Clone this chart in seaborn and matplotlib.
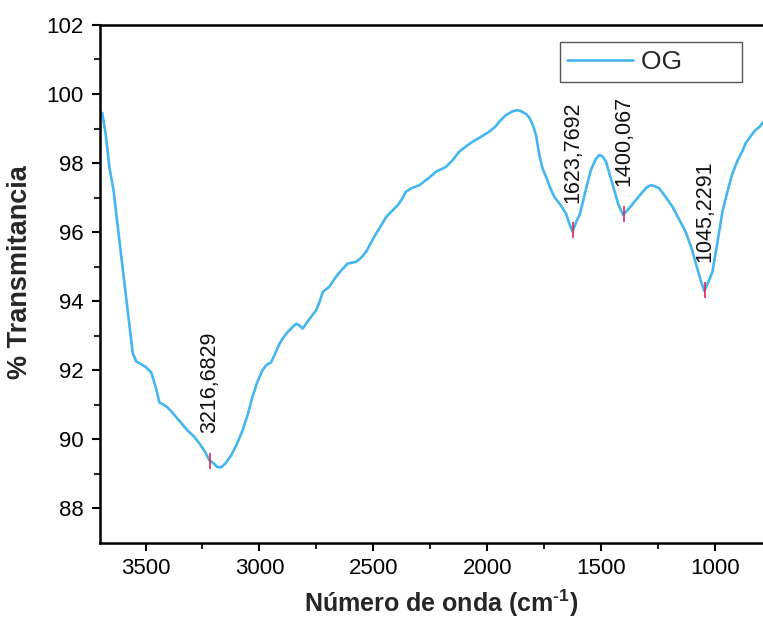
import numpy as np
import pandas as pd
import matplotlib
matplotlib.use("Agg")
import matplotlib.pyplot as plt
import seaborn as sns

wavenumber = [3700, 3690, 3675, 3658, 3640, 3628, 3610, 3592, 3570, 3556, 3540, 3526, 3500, 3475, 3455, 3439,
              3420, 3404, 3385, 3365, 3340, 3316, 3290, 3263, 3240, 3219, 3200, 3185, 3168, 3150,
              3124, 3100, 3074, 3050, 3031, 3010, 2987, 2970, 2949, 2930, 2912, 2895, 2876, 2855,
              2839, 2825, 2810, 2790, 2773, 2751, 2735, 2722, 2693, 2664, 2640, 2613, 2576, 2555,
              2532, 2510, 2488, 2465, 2444, 2420, 2393, 2375, 2357, 2330, 2298, 2260, 2225, 2181,
              2150, 2123, 2090, 2064, 2030, 1991, 1965, 1947, 1920, 1889, 1867, 1852, 1830, 1816,
              1800, 1786, 1772, 1758, 1742, 1725, 1706, 1680, 1655, 1640, 1626, 1610, 1595, 1582,
              1565, 1545, 1525, 1509, 1495, 1479, 1460, 1443, 1425, 1404, 1390, 1370, 1348, 1320,
              1300, 1282, 1265, 1246, 1215, 1187, 1165, 1149, 1129, 1101, 1085, 1063, 1048, 1030, 1012,
              990, 968, 945, 924, 900, 880, 866, 850, 836, 822, 805, 790, 780]
transmittance = [99.3, 99.45, 98.85, 97.85, 97.2, 96.5, 95.5, 94.5, 93.3, 92.49, 92.25, 92.2, 92.1, 91.94, 91.5, 91.07,
                 91.0, 90.93, 90.8, 90.64, 90.45, 90.26, 90.1, 89.88, 89.65, 89.39, 89.3, 89.2, 89.19, 89.3,
                 89.54, 89.85, 90.26, 90.75, 91.22, 91.65, 92.0, 92.15, 92.23, 92.5, 92.77, 92.95, 93.11, 93.25,
                 93.35, 93.3, 93.21, 93.4, 93.55, 93.74, 94.0, 94.27, 94.42, 94.71, 94.9, 95.09, 95.14, 95.25,
                 95.43, 95.7, 95.96, 96.2, 96.44, 96.6, 96.78, 96.95, 97.17, 97.28, 97.36, 97.55, 97.75, 97.89,
                 98.1, 98.33, 98.5, 98.62, 98.75, 98.91, 99.05, 99.2, 99.38, 99.5, 99.53, 99.5, 99.42, 99.32,
                 99.1, 98.8, 98.25, 97.85, 97.6, 97.3, 97.02, 96.8, 96.54, 96.25, 96.01, 96.3, 96.5, 96.83,
                 97.3, 97.8, 98.1, 98.23, 98.2, 98.04, 97.6, 97.22, 96.8, 96.5, 96.6, 96.75, 96.93, 97.15,
                 97.3, 97.36, 97.33, 97.27, 97.0, 96.73, 96.45, 96.26, 96.0, 95.48, 95.1, 94.6, 94.3, 94.55, 94.85,
                 95.7, 96.6, 97.2, 97.7, 98.1, 98.35, 98.58, 98.72, 98.85, 98.96, 99.05, 99.18, 99.25]
series_name = "OG"
peak_positions = [3216.6829, 1623.7692, 1400.067, 1045.2291]
peak_labels = ["3216,6829", "1623,7692", "1400,067", "1045,2291"]
x_ticks = [3500, 3000, 2500, 2000, 1500, 1000]
y_ticks = [88, 90, 92, 94, 96, 98, 100, 102]

sns.set_style("ticks")
plt.rcParams['font.family'] = ['Liberation Sans', 'DejaVu Sans']
plt.rcParams['mathtext.fontset'] = 'custom'
plt.rcParams['mathtext.rm'] = 'Liberation Sans:bold'
plt.rcParams['mathtext.bf'] = 'Liberation Sans:bold'

df = pd.DataFrame({"w": wavenumber, "T": transmittance, "serie": series_name})

fig = plt.figure(figsize=(7.63, 6.22), dpi=100)
ax = fig.add_axes([0.131, 0.127, 0.869, 0.833])

line_color = "#45b6ef"
sns.lineplot(data=df, x="w", y="T", hue="serie", palette=[line_color], ax=ax,
             linewidth=1.9, sort=False, estimator=None)

ws = np.array(wavenumber[::-1], dtype=float)
ts = np.array(transmittance[::-1], dtype=float)
peak_y = np.interp(peak_positions, ws, ts)
ax.plot(peak_positions, peak_y, linestyle="none", marker="|", markersize=12,
        markeredgewidth=1.2, color="#e0284f", zorder=3)
for px, py, lab in zip(peak_positions, peak_y, peak_labels):
    ax.annotate(lab, (px, py), xytext=(0, 20), textcoords="offset points",
                rotation=90, ha="center", va="bottom", fontsize=15.5, color="#111111")

ax.set_xlim(3700, 790)
ax.set_ylim(87, 102)
ax.set_xticks(x_ticks)
ax.set_yticks(y_ticks)
ax.set_xticks(np.arange(3250, 790, -500), minor=True)
ax.set_yticks(np.arange(89, 102, 2), minor=True)
ax.tick_params(axis="x", which="major", pad=5)
ax.tick_params(axis="y", which="major", pad=6)
ax.tick_params(axis="both", which="major", direction="out", length=6, width=1.5,
               labelsize=16, colors="black")
ax.tick_params(axis="both", which="minor", direction="out", length=4, width=1.5)
ax.tick_params(top=False, right=False)

for s in ["left", "bottom", "top"]:
    ax.spines[s].set_visible(True)
    ax.spines[s].set_linewidth(1.8)
    ax.spines[s].set_color("black")
ax.spines["right"].set_visible(False)

ax.set_xlabel(r"Número de onda (cm$^{\text{-1}}$)", fontsize=18, fontweight="bold")
ax.set_ylabel("% Transmitancia", fontsize=19.5, fontweight="bold")
ax.xaxis.set_label_coords(0.514, -0.086)
ax.yaxis.set_label_coords(-0.101, 0.523)

leg = ax.legend(loc="upper right", bbox_to_anchor=(0.9725, 0.9325), bbox_transform=fig.transFigure,
                borderaxespad=0, frameon=True, fancybox=False, fontsize=19, handlelength=2.5,
                borderpad=0.3, handletextpad=0.3)
leg.get_frame().set_edgecolor("#555555")
leg.get_frame().set_linewidth(1.0)
leg.get_frame().set_facecolor("white")
leg.get_frame().set_alpha(1.0)
leg.set_title(None)
for t in leg.get_texts():
    t.set_text(series_name + "       ")

fig.savefig("out.png", dpi=100)
